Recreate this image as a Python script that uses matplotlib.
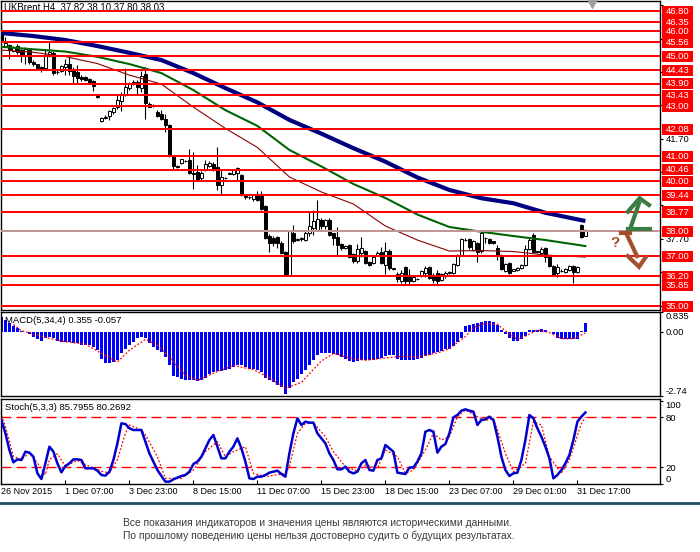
import numpy as np
import matplotlib
matplotlib.use('Agg')
import matplotlib.pyplot as plt
import matplotlib.transforms as mtransforms
from matplotlib.patches import Rectangle
from matplotlib.lines import Line2D

plt.rcParams['font.family'] = ['Liberation Sans', 'DejaVu Sans']

# ---- H4 candles (UKBrent) ----
bar_open = [
    45.95, 45.42, 45.45, 45.22, 45.42, 45.25, 45.05, 45.25, 44.78, 44.68,
    44.55, 44.52, 45.02, 45.12, 44.35, 44.42, 44.55, 44.70, 44.50, 44.38,
    44.15, 44.15, 44.08, 44.00, 43.42, 42.42, 42.52, 42.62, 42.76, 42.95,
    43.20, 43.45, 43.72, 43.88, 43.98, 43.72, 44.30, 43.10, 43.00, 42.78,
    42.70, 42.50, 42.25, 41.00, 40.62, 40.72, 40.80, 40.85, 40.32, 40.35,
    40.12, 40.45, 40.62, 40.70, 40.58, 39.85, 40.14, 40.30, 40.30, 40.32,
    40.25, 39.42, 39.37, 39.28, 39.45, 39.40, 39.00, 37.82, 37.75, 37.78,
    37.55, 37.18, 36.25, 37.92, 37.65, 37.68, 37.64, 37.92, 38.12, 38.05,
    38.45, 38.20, 38.45, 37.92, 37.78, 37.48, 37.32, 37.45, 37.10, 36.80,
    37.14, 37.20, 36.78, 36.72, 37.05, 37.18, 36.65, 37.20, 36.52,
    36.30, 36.02, 36.56, 36.18, 36.02, 36.08, 36.21, 36.35, 36.56, 36.25,
    36.32, 36.05, 36.21, 36.32, 36.32, 36.65, 37.05, 37.65, 37.68, 37.25,
    37.52, 37.21, 37.72, 37.68, 37.60, 37.32, 37.05, 36.42, 36.72, 36.42,
    36.45, 36.52, 36.65, 37.28, 37.85, 37.20, 37.14, 37.34, 36.98, 36.61,
    36.32, 36.42, 36.38, 36.45, 36.61, 36.38, 38.25, 37.82]
bar_high = [
    46.20, 45.77, 45.50, 45.42, 45.50, 45.30, 45.35, 45.30, 44.85, 44.70,
    44.60, 45.30, 45.57, 45.20, 44.45, 44.65, 44.90, 44.95, 44.55, 44.64,
    44.25, 44.20, 44.12, 44.05, 43.45, 42.56, 42.65, 42.85, 42.98, 43.45,
    43.55, 44.54, 43.95, 44.05, 44.05, 44.40, 44.55, 43.15, 43.10, 42.85,
    42.85, 42.70, 42.28, 41.05, 40.66, 40.90, 40.85, 41.30, 41.18, 40.65,
    40.40, 40.85, 40.80, 40.75, 41.38, 40.45, 40.16, 40.38, 40.50, 40.58,
    40.30, 39.45, 39.42, 39.50, 39.62, 39.60, 39.05, 37.90, 37.82, 37.80,
    37.60, 37.20, 38.05, 38.25, 37.75, 37.78, 38.00, 38.78, 38.85, 39.25,
    38.55, 38.50, 38.55, 37.95, 38.18, 37.55, 37.45, 37.50, 37.15, 37.48,
    37.78, 37.25, 36.80, 37.00, 37.20, 37.38, 37.58, 37.30, 36.55,
    36.38, 36.45, 36.60, 36.48, 36.20, 36.15, 36.45, 36.60, 36.60, 36.32,
    36.45, 36.32, 36.40, 36.42, 36.72, 37.10, 37.72, 37.72, 37.72, 37.65,
    37.56, 37.98, 37.78, 37.72, 37.62, 37.45, 37.10, 36.72, 36.78, 36.50,
    36.58, 36.70, 37.45, 37.72, 37.92, 37.23, 37.36, 37.38, 37.00, 36.65,
    36.69, 36.48, 36.54, 36.65, 36.66, 36.62, 38.28, 38.10]
bar_low = [
    45.55, 45.38, 44.90, 45.15, 45.10, 44.75, 44.67, 44.70, 44.60, 44.50,
    44.38, 44.45, 44.95, 44.25, 44.30, 44.38, 44.25, 44.25, 43.90, 43.90,
    44.00, 44.02, 43.92, 43.62, 43.34, 42.38, 42.48, 42.45, 42.70, 42.90,
    42.80, 43.40, 43.65, 43.85, 43.47, 43.58, 42.50, 42.95, 42.98, 42.55,
    42.45, 41.98, 40.98, 40.44, 40.52, 40.68, 40.78, 40.28, 39.70, 40.00,
    40.05, 40.40, 40.55, 40.40, 39.65, 39.45, 40.10, 40.27, 40.25, 40.05,
    39.40, 39.30, 39.30, 39.22, 39.20, 38.85, 37.70, 37.18, 37.40, 37.35,
    37.10, 36.22, 36.22, 37.55, 37.60, 37.62, 37.60, 37.80, 37.85, 38.00,
    38.10, 38.10, 37.80, 37.45, 37.00, 37.25, 37.30, 36.95, 36.75, 36.75,
    36.98, 36.70, 36.60, 36.68, 37.00, 36.70, 36.30, 36.45, 36.45,
    35.98, 35.92, 35.88, 35.88, 35.98, 36.05, 36.18, 36.18, 36.08, 35.95,
    35.85, 36.00, 36.15, 36.28, 36.28, 36.60, 37.00, 37.60, 37.28, 37.20,
    36.78, 37.15, 37.52, 37.48, 37.50, 36.85, 36.45, 36.38, 36.28, 36.40,
    36.42, 36.50, 36.60, 37.25, 37.15, 37.14, 37.10, 36.78, 36.58, 36.25,
    36.18, 36.38, 36.33, 36.42, 35.95, 36.33, 37.72, 37.80]
bar_close = [
    45.60, 45.52, 45.25, 45.35, 45.18, 45.05, 45.30, 44.75, 44.68, 44.54,
    44.50, 45.05, 45.17, 44.32, 44.38, 44.60, 44.68, 44.40, 44.20, 44.12,
    44.10, 44.06, 43.98, 43.82, 43.38, 42.52, 42.58, 42.80, 42.94, 43.24,
    43.50, 43.75, 43.90, 43.98, 43.78, 44.22, 43.12, 42.98, 43.05, 42.60,
    42.48, 42.25, 41.02, 40.62, 40.55, 40.87, 40.82, 40.32, 40.30, 40.05,
    40.32, 40.70, 40.72, 40.46, 39.85, 40.18, 40.12, 40.34, 40.45, 40.52,
    39.45, 39.37, 39.35, 39.45, 39.25, 38.88, 37.75, 37.52, 37.55, 37.52,
    37.15, 36.25, 38.00, 37.60, 37.70, 37.72, 37.95, 38.20, 38.40, 38.50,
    38.20, 38.45, 37.85, 37.72, 37.45, 37.32, 37.40, 36.98, 36.80, 37.28,
    37.32, 36.72, 36.65, 36.98, 37.14, 36.72, 37.22, 36.52, 36.50,
    36.08, 36.32, 36.02, 36.02, 36.16, 36.10, 36.42, 36.52, 36.12, 36.05,
    36.02, 36.29, 36.35, 36.38, 36.69, 37.05, 37.68, 37.66, 37.36, 37.61,
    37.18, 37.92, 37.74, 37.52, 37.52, 37.05, 36.48, 36.69, 36.32, 36.48,
    36.54, 36.65, 37.28, 37.65, 37.18, 37.17, 37.28, 36.98, 36.61, 36.29,
    36.58, 36.43, 36.50, 36.61, 36.38, 36.56, 37.78, 38.03]

# moving averages at sample bars
ma_idx = [0, 8, 16, 24, 32, 40, 48, 56, 64, 72, 80, 88, 96, 104, 112, 120, 128, 136, 146]
ma_blue = [45.92, 45.80, 45.64, 45.40, 45.13, 44.84, 44.32, 43.72, 43.15, 42.45,
           41.90, 41.32, 40.78, 40.15, 39.65, 39.32, 39.12, 38.74, 38.41]
ma_green = [45.37, 45.27, 45.18, 44.97, 44.68, 44.32, 43.64, 42.84, 42.21, 41.25,
            40.59, 39.89, 39.33, 38.67, 38.17, 37.98, 37.81, 37.65, 37.41]
ma_red = [45.24, 45.15, 44.98, 44.70, 44.24, 43.88, 42.96, 42.11, 41.35, 40.17,
          39.57, 39.09, 38.21, 37.65, 37.21, 37.23, 37.19, 37.05, 36.97]

levels = [46.80, 46.35, 46.00, 45.56, 45.00, 44.43, 43.90, 43.43, 43.00, 42.08,
          41.00, 40.46, 40.00, 39.44, 38.77, 38.00, 37.00, 36.20, 35.85, 35.00]
price_ticks = [35.03, 36.37, 37.70, 39.03, 40.37, 41.70, 43.03, 44.37, 45.70, 47.03]
price_tick_shown = [37.70, 41.70]   # the others sit under the red level boxes
bid = 38.03

# ---- MACD(5,34,4) ----
macd_hist = [
    0.62, 0.50, 0.36, 0.22, 0.14, 0.04, -0.03, -0.11, -0.22, -0.33,
    -0.39, -0.29, -0.22, -0.29, -0.39, -0.43, -0.43, -0.43, -0.47, -0.50,
    -0.55, -0.57, -0.57, -0.65, -0.79, -1.15, -1.34, -1.34, -1.29, -1.19,
    -0.93, -0.72, -0.55, -0.43, -0.29, -0.22, -0.29, -0.50, -0.65, -0.79,
    -0.86, -1.08, -1.44, -1.87, -1.95, -2.01, -2.04, -2.04, -2.08, -2.11,
    -2.05, -1.97, -1.82, -1.72, -1.68, -1.68, -1.65, -1.58, -1.51, -1.44,
    -1.44, -1.51, -1.58, -1.58, -1.65, -1.72, -1.97, -2.08, -2.16, -2.26,
    -2.34, -2.67, -2.41, -2.16, -2.01, -1.82, -1.65, -1.44, -1.22, -1.01,
    -0.93, -0.91, -0.91, -0.96, -0.98, -1.08, -1.15, -1.25, -1.31, -1.24,
    -1.22, -1.22, -1.22, -1.22, -1.16, -1.12, -1.05, -0.98, -0.98, -1.16,
    -1.19, -1.19, -1.22, -1.19, -1.16, -1.12, -1.02, -0.98, -0.91, -0.88,
    -0.83, -0.76, -0.73, -0.62, -0.45, -0.26, 0.22, 0.27, 0.32, 0.36,
    0.42, 0.46, 0.46, 0.39, 0.27, 0.07, -0.09, -0.26, -0.40, -0.40,
    -0.33, -0.19, 0.07, 0.07, 0.07, 0.10, 0.07, -0.01, -0.09, -0.26,
    -0.33, -0.33, -0.33, -0.33, -0.33, 0.02, 0.355]
macd_sig_idx = [3, 5, 12, 16, 21, 25, 29, 32, 36, 39, 42, 46, 49, 53, 58, 63, 66, 71, 75, 80,
                83, 87, 91, 96, 100, 104, 109, 112, 116, 118, 121, 124, 126, 129, 131, 134,
                137, 140, 143, 146]
macd_sig = [0.30, 0.04, -0.29, -0.43, -0.53, -0.93, -1.29, -0.79, -0.33, -0.57, -1.08, -1.87,
            -2.08, -1.77, -1.44, -1.62, -1.87, -2.41, -2.16, -1.25, -0.93, -1.12, -1.22, -1.12,
            -1.05, -1.08, -0.91, -0.73, -0.21, 0.17, 0.36, 0.32, 0.03, -0.33, -0.19, 0.07,
            -0.04, -0.30, -0.30, -0.057]

# ---- Stoch(5,3,3) ----
stoch_main = [
    76.8, 60.8, 40.8, 26.0, 29.6, 28.8, 38.8, 37.6, 32.8, 12.8,
    6.0, 24.8, 44.8, 38.8, 24.8, 14.0, 21.6, 24.8, 29.6, 29.6,
    28.8, 18.8, 18.8, 18.8, 16.0, 10.8, 10.0, 14.8, 28.8, 48.8,
    72.8, 72.0, 66.8, 64.8, 64.8, 64.8, 50.8, 36.8, 26.8, 16.8,
    9.6, 2.8, 2.8, 5.6, 7.6, 9.6, 10.8, 14.8, 24.0, 26.8,
    32.8, 42.8, 52.8, 58.8, 44.8, 30.8, 30.8, 38.8, 44.8, 54.8,
    42.8, 26.8, 6.8, 6.0, 8.8, 8.8, 10.8, 13.6, 14.8, 16.0,
    12.0, 8.8, 36.8, 60.8, 78.8, 70.8, 74.8, 73.6, 73.6, 60.8,
    54.8, 48.8, 36.8, 28.8, 17.6, 17.6, 20.8, 14.8,
    12.8, 14.8, 24.8, 28.8, 16.8, 16.0, 28.8, 30.8, 46.8, 42.8,
    38.8, 13.6, 12.8, 12.0, 19.6, 20.0, 26.8, 36.8, 62.8, 64.8,
    62.8, 37.6, 44.8, 48.0, 60.8, 80.0, 82.8, 88.0, 89.6, 88.0,
    86.8, 70.8, 76.8, 77.6, 80.8, 76.8, 56.8, 32.8, 16.8, 9.6,
    12.8, 13.6, 28.8, 52.8, 82.8, 78.8, 66.8, 56.8, 44.8, 30.8,
    6.8, 10.8, 16.8, 24.8, 34.8, 52.8, 74.8, 80.8, 85.8]
stoch_sig_idx = [0, 1, 3, 5, 7, 9, 11, 12, 14, 16, 19, 21, 25, 27, 29, 31, 32, 35, 36, 39,
                 41, 45, 48, 51, 54, 56, 58, 61, 63, 66, 71, 72, 74, 76, 78, 81, 83, 86, 87,
                 89, 91, 94, 96, 99, 101, 103, 106, 108, 110, 112, 114, 116, 119, 121, 123,
                 126, 128, 131, 133, 135, 137, 140, 142, 145, 146]
stoch_sig = [82.0, 69.2, 33.2, 29.2, 37.2, 25.2, 11.2, 29.2, 36.4, 21.2, 28.4, 23.2, 15.2,
             13.2, 29.2, 60.8, 70.8, 64.8, 58.8, 32.8, 6.8, 6.8, 16.8, 38.8, 50.8, 32.8,
             38.8, 44.8, 12.8, 8.8, 12.8, 20.8, 60.8, 72.8, 73.6, 56.8, 38.8, 20.8, 18.8,
             15.6, 22.8, 18.8, 40.8, 32.8, 12.8, 16.8, 40.8, 60.8, 52.8, 56.8, 80.8, 88.8,
             80.8, 76.0, 78.8, 36.8, 14.8, 24.8, 74.8, 70.8, 32.8, 12.8, 28.8, 72.8, 80.3]

date_pos = [0, 16, 32, 48, 64, 80, 96, 112, 128, 144]
date_labels = ['26 Nov 2015', '1 Dec 07:00', '3 Dec 23:00', '8 Dec 15:00', '11 Dec 07:00',
               '15 Dec 23:00', '18 Dec 15:00', '23 Dec 07:00', '29 Dec 01:00', '31 Dec 17:00']

W, H = 700, 552
FS = 6.8


def rect(l, t, r, b):
    return [l / W, 1 - b / H, (r - l) / W, (b - t) / H]


fig = plt.figure(figsize=(W / 100, H / 100), dpi=100)
ax = fig.add_axes(rect(1, 1, 660, 310))
ax2 = fig.add_axes(rect(1, 312, 660, 396))
ax3 = fig.add_axes(rect(1, 399, 660, 484))

x = np.arange(len(bar_open))
o = np.array(bar_open)
c = np.array(bar_close)
hi = np.array(bar_high)
lo = np.array(bar_low)
up = c >= o

for a in (ax, ax2, ax3):
    a.set_xlim(-0.1, 164.65)
    for s in a.spines.values():
        s.set_linewidth(1.0)
        s.set_color('black')
    a.yaxis.tick_right()
    a.tick_params(axis='y', direction='out', length=2.5, width=0.8, pad=1.5, labelsize=FS)
    a.tick_params(axis='x', bottom=False, labelbottom=False)

# price panel
ax.set_ylim(34.855, 47.20)
ax.vlines(x, lo, hi, color='black', lw=0.8, zorder=2)
ax.bar(x[up], (c - o)[up], bottom=o[up], width=0.75, color='white',
       edgecolor='black', lw=0.7, zorder=3)
ax.bar(x[~up], (o - c)[~up], bottom=c[~up], width=0.75, color='black',
       edgecolor='black', lw=0.7, zorder=3)
ax.plot(ma_idx, ma_blue, color='#000080', lw=3.0, zorder=3.5, solid_capstyle='butt')
ax.plot(ma_idx, ma_green, color='#006400', lw=1.5, zorder=3.5)
ax.plot(ma_idx, ma_red, color='#8b0000', lw=0.8, zorder=3.5)

for lv in levels:
    ax.axhline(lv, color='#ff0000', lw=1.4, zorder=4)
ax.axhline(bid, color='#b4b4b4', lw=1.2, zorder=4.5)

ax.set_yticks(price_ticks)
ax.set_yticklabels(['%.2f' % v if v in price_tick_shown else '' for v in price_ticks])
blend = mtransforms.blended_transform_factory(ax.transAxes, ax.transData)
for lv in levels:
    ax.add_patch(Rectangle((1.003, lv - 0.22), 0.047, 0.44, transform=blend,
                           facecolor='#ff0000', edgecolor='none', clip_on=False, zorder=10))
    ax.text(1.0083, lv, '%.2f' % lv, transform=blend, color='white', fontsize=FS,
            ha='left', va='center', clip_on=False, zorder=11)

ax.text(0.004, 0.968, 'UKBrent,H4  37.82 38.10 37.80 38.03', transform=ax.transAxes,
        fontsize=6.9, ha='left', va='baseline', color='#000000')
ax.plot([147.6], [0.99], marker='v', color='#a0a0a0', markersize=6,
        transform=mtransforms.blended_transform_factory(ax.transData, ax.transAxes),
        clip_on=False, zorder=6)

# forecast arrows (bar, price)
green_paths = [[(156.6, 38.78), (159.55, 39.32), (161.9, 39.05)],
               [(159.4, 39.12), (157.2, 38.10)],
               [(156.6, 38.08), (162.05, 38.08)]]
brown_paths = [[(154.95, 37.92), (157.2, 37.92)],
               [(156.2, 37.92), (158.9, 37.01)],
               [(156.6, 37.01), (159.4, 36.58), (161.05, 36.96)]]
for pth in green_paths:
    px, py = zip(*pth)
    ax.plot(px, py, color='#3a7d44', lw=3.0, solid_joinstyle='miter', zorder=7)
for pth in brown_paths:
    px, py = zip(*pth)
    ax.plot(px, py, color='#a4502e', lw=3.0, solid_joinstyle='miter', zorder=7)
ax.text(153.3, 37.54, '?', color='#a4502e', fontsize=11, fontweight='bold',
        ha='center', va='center', zorder=7)

# MACD panel
ax2.set_ylim(-2.74, 0.835)
ax2.bar(x, macd_hist, width=0.75, color='#0000ff', zorder=2)
ax2.plot(macd_sig_idx, macd_sig, color='#ff0000', lw=0.9, ls=(0, (1.5, 1.5)), zorder=3)
ax2.set_yticks([-2.74, 0.0, 0.835])
ax2.set_yticklabels(['-2.74', '0.00', '0.835'])
lbl = ax2.get_yticklabels()
lbl[0].set_verticalalignment('bottom')
lbl[2].set_verticalalignment('top')
ax2.text(0.006, 0.9, 'MACD(5,34,4) 0.355 -0.057', transform=ax2.transAxes,
         fontsize=FS, ha='left', va='center', zorder=5)

# Stochastic panel
ax3.set_ylim(0, 102)
ax3.axhline(80, color='#ff0000', lw=1.0, ls=(0, (7.2, 3.6)), zorder=1)
ax3.axhline(20, color='#ff0000', lw=1.0, ls=(0, (7.2, 3.6)), zorder=1)
ax3.plot(x, stoch_main, color='#0000cd', lw=1.8, zorder=3)
ax3.plot(stoch_sig_idx, stoch_sig, color='#ff0000', lw=0.9, ls=(0, (1.5, 1.5)), zorder=2)
ax3.set_yticks([0, 20, 80, 100])
ax3.set_yticklabels(['0', '20', '80', '100'])
lbl = ax3.get_yticklabels()
lbl[0].set_verticalalignment('bottom')
lbl[3].set_verticalalignment('top')
ax3.text(0.006, 0.9, 'Stoch(5,3,3) 85.7955 80.2692', transform=ax3.transAxes,
         fontsize=FS, ha='left', va='center', zorder=5)

ax3.tick_params(axis='x', bottom=True, labelbottom=True, direction='in', length=3,
                width=0.8, pad=2, labelsize=6.5)
ax3.set_xticks(date_pos)
ax3.set_xticklabels(date_labels, ha='left')

# footer
fig.add_artist(Line2D([0, 1], [1 - 503 / H, 1 - 503 / H], transform=fig.transFigure,
                      color='#1d4d63', lw=2.0))
fig.text(123 / W, 1 - 523 / H,
         'Все показания индикаторов и значения цены являются историческими данными.',
         fontsize=7.4, color='#3a3a3a', ha='left', va='center')
fig.text(123 / W, 1 - 536 / H,
         'По прошлому поведению цены нельзя достоверно судить о будущих результатах.',
         fontsize=7.4, color='#3a3a3a', ha='left', va='center')

fig.savefig('out.png', dpi=100)
